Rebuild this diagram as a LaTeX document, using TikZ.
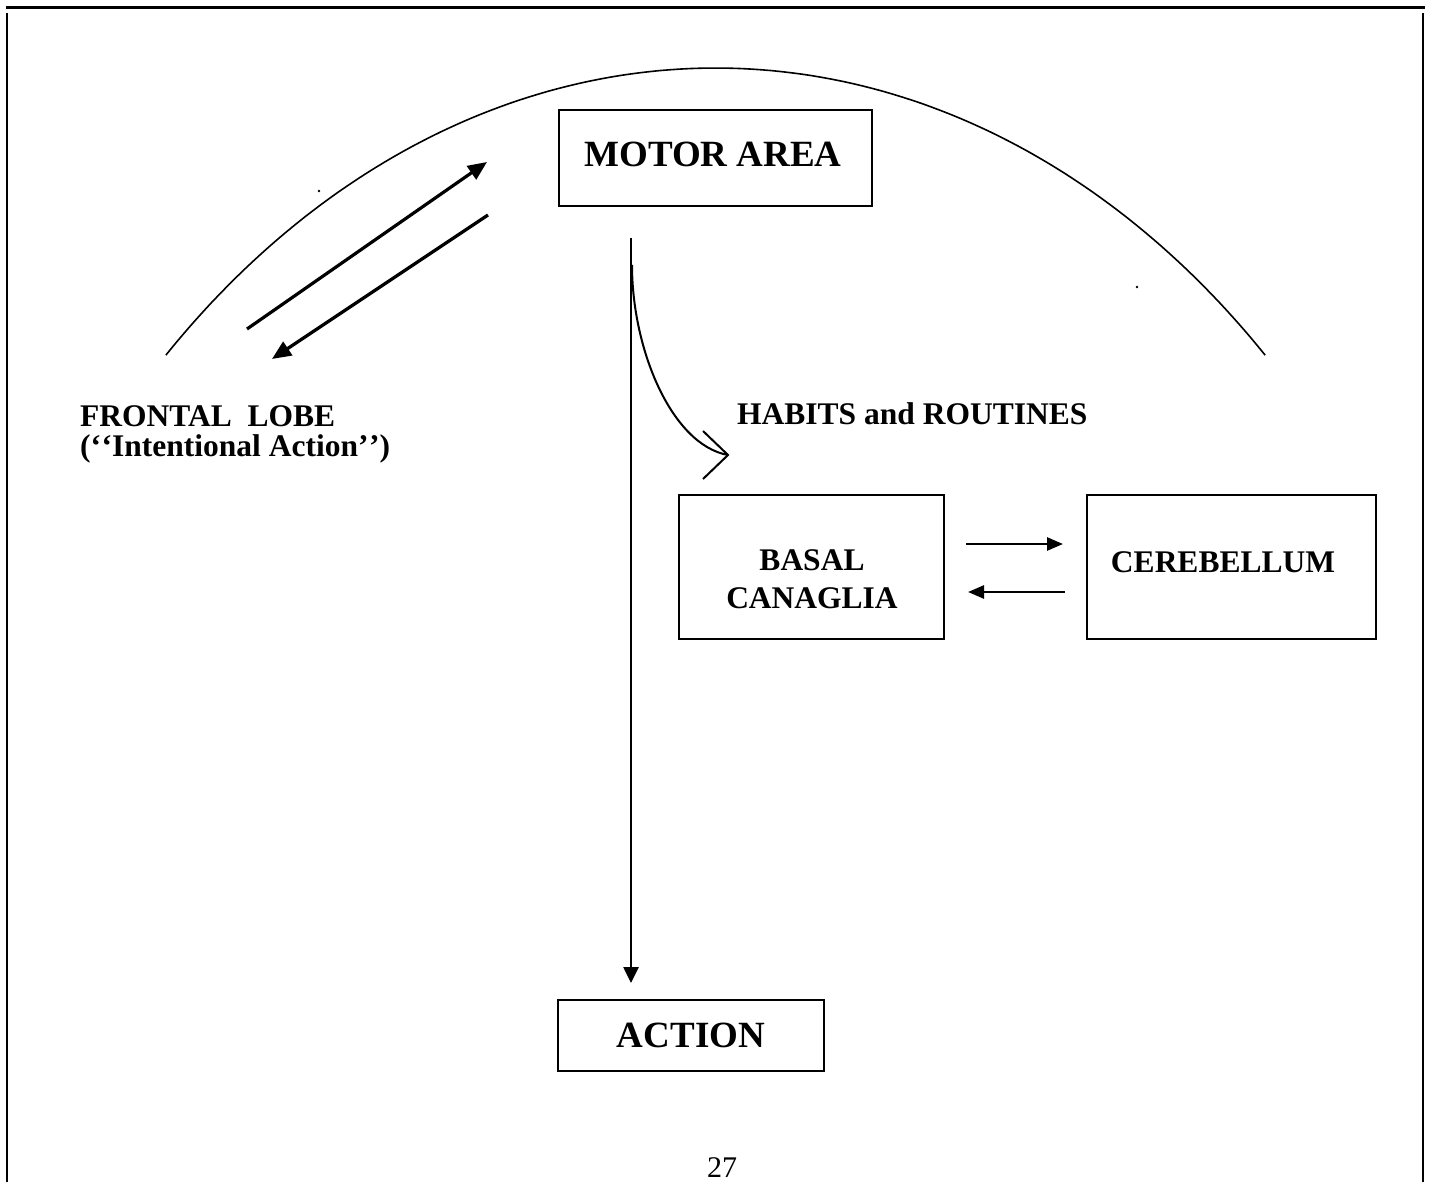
\documentclass[tikz,border=0pt]{standalone}
\usepackage{fontspec}
\setmainfont{Liberation Serif}
\usetikzlibrary{arrows.meta,calc}
\begin{document}
\begin{tikzpicture}[x=1pt,y=-1pt,
  boxframe/.style={draw, line width=2pt, inner sep=0pt},
  bigtxt/.style={font=\fontsize{37}{44}\selectfont\bfseries, inner sep=0pt},
  midtxt/.style={font=\fontsize{31.5}{38}\selectfont\bfseries, inner sep=0pt},
  thickarrow/.style={line width=3.2pt, -{Triangle[length=19pt,width=16pt]}},
  medarrow/.style={line width=2.6pt, -{Triangle[length=16pt,width=13pt]}}]
\useasboundingbox (0,0) rectangle (1429,1182);
% page frame
\draw[line width=3pt] (6,8) -- (1425,8);
\draw[line width=2.6pt] (7,13) -- (7,1182);
\draw[line width=2.6pt] (1423,13) -- (1423,1182);
% big arc
\draw[line width=1.6pt] plot[domain=46.6:133.4, samples=120] ({715.5+800*cos(\x)}, {1118-1050*sin(\x)});
% tiny dots
\fill (319,191) circle (1.4pt);
\fill (1137,287) circle (1.4pt);
% boxes
\node[boxframe, minimum width=313pt, minimum height=96pt] (motor) at (715.5,158) {};
\node[bigtxt] (motortxt) at (713,154) {MOTOR AREA};
\node[boxframe, minimum width=266pt, minimum height=71pt] (action) at (691,1035.5) {};
\node[bigtxt] (actiontxt) at (691,1035) {ACTION};
\node[boxframe, minimum width=265pt, minimum height=144pt] (basal) at (811.5,567) {};
\node[midtxt, align=center, font=\fontsize{31.5}{37.5}\selectfont\bfseries] (basaltxt) at (812,579) {BASAL\\CANAGLIA};
\node[boxframe, minimum width=289pt, minimum height=144pt] (cereb) at (1231.5,567) {};
\node[midtxt] (cerebtxt) at (1223,562) {CEREBELLUM};
% labels
\node[midtxt, anchor=base west] (frontal1) at (80,426) {FRONTAL\ \ LOBE};
\node[midtxt, anchor=base west] (frontal2) at (80,456) {(‘\kern0.5pt‘Intentional Action’\kern0.5pt’)};
\node[midtxt, anchor=base west] (habits) at (737,424) {HABITS and ROUTINES};
\node[font=\fontsize{30}{36}\selectfont, inner sep=0pt, anchor=base] (pagenum) at (722,1177) {27};
% frontal <-> motor arrows
\coordinate (fa1) at (247,329);
\coordinate (ma1) at (487,162);
\coordinate (ma2) at (488,215);
\coordinate (fa2) at (272,359);
\draw[thickarrow] (fa1) -- (ma1);
\draw[thickarrow] (ma2) -- (fa2);
% motor -> action
\coordinate (mtop) at (631,238);
\coordinate (atip) at (631,983);
\draw[medarrow, -{Triangle[length=16pt,width=15pt]}] (mtop) -- (atip);
% habits curve with open head
\coordinate (cstart) at (632,265);
\coordinate (cend) at (728,455);
\draw[line width=2pt] (cstart) .. controls (632,350) and (672,445) .. (cend);
\draw[line width=2pt] ($(cend)+(-25,-24)$) -- (cend) -- ($(cend)+(-25,24)$);
% basal <-> cerebellum
\coordinate (b1) at (966,544);
\coordinate (c1) at (1063,544);
\coordinate (c2) at (1065,592);
\coordinate (b2) at (968,592);
\draw[medarrow] (b1) -- (c1);
\draw[medarrow] (c2) -- (b2);
\end{tikzpicture}
\end{document}
